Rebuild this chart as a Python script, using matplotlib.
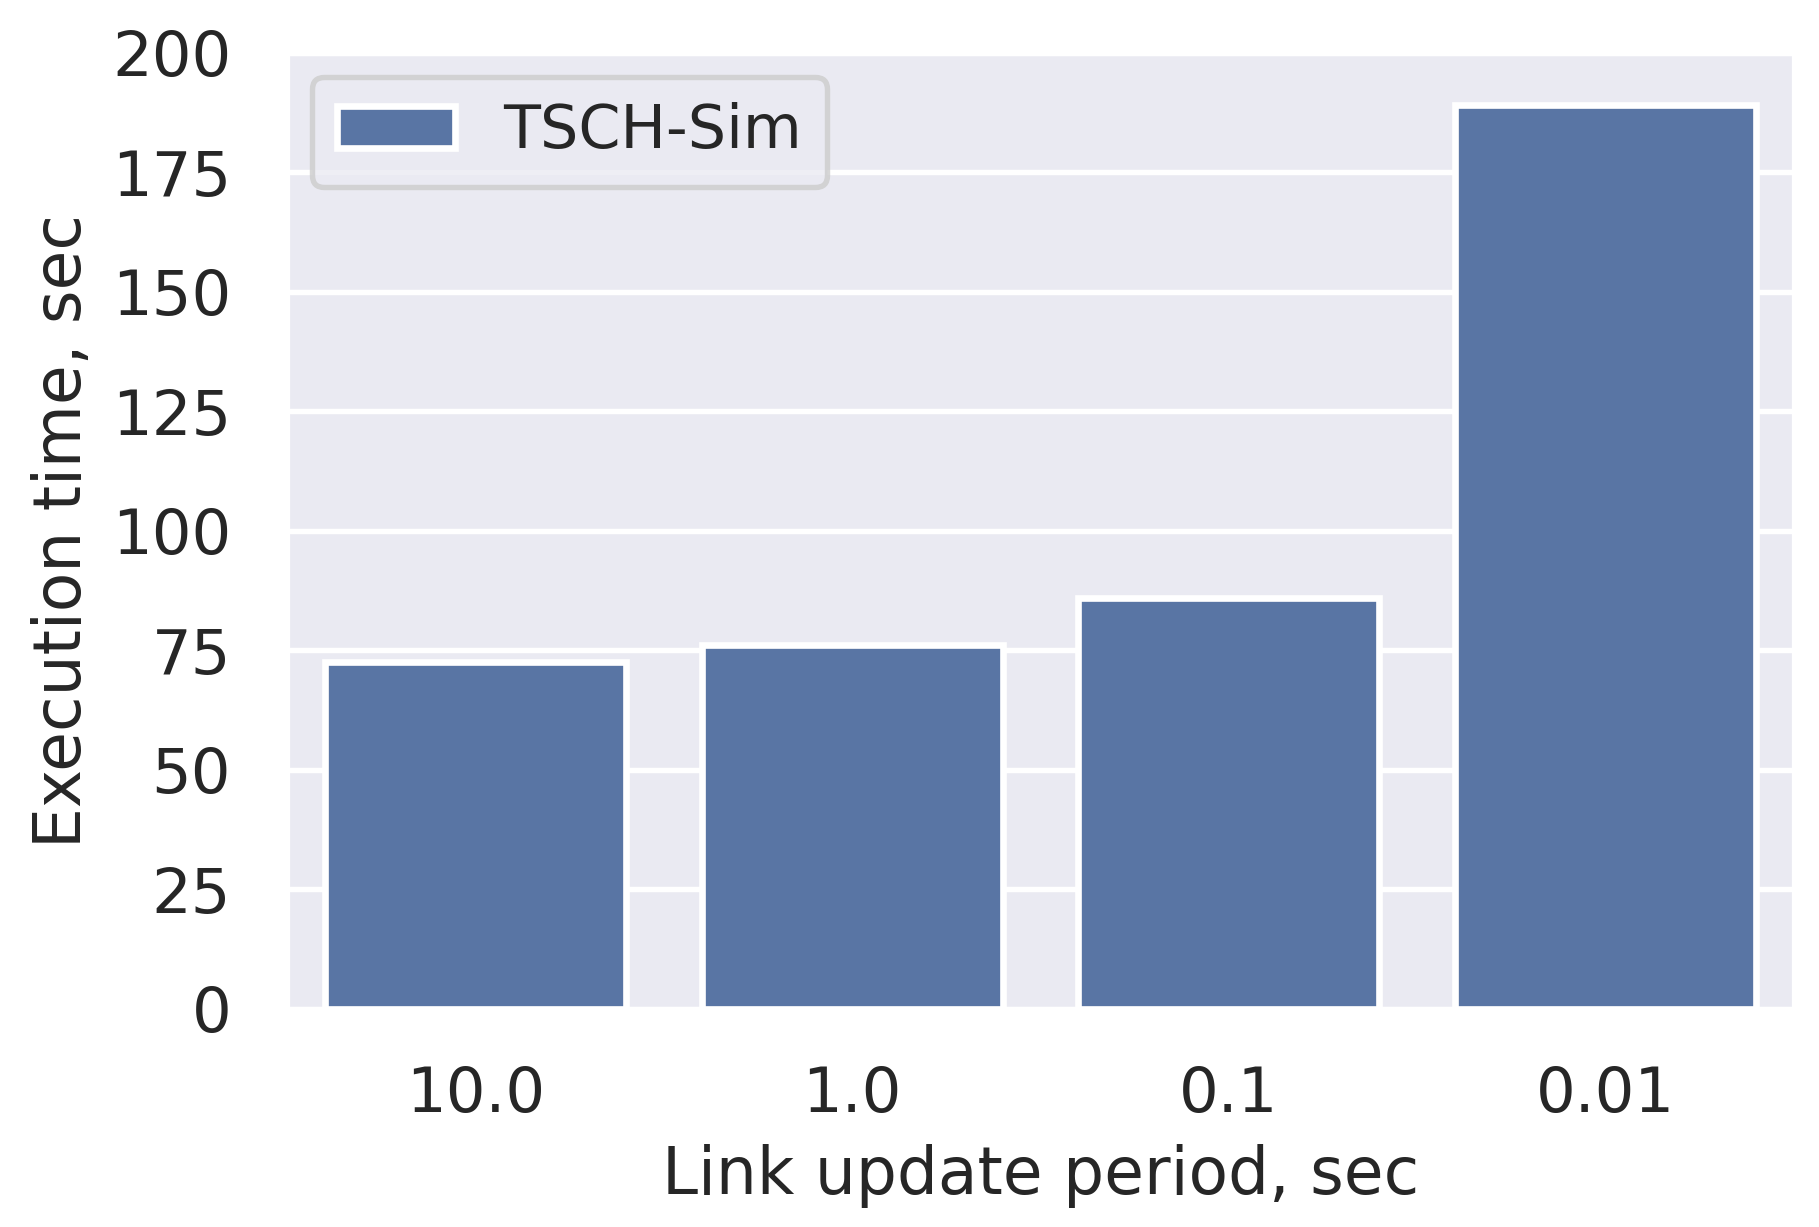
import matplotlib
matplotlib.use("Agg")
import matplotlib.pyplot as plt
import seaborn as sns

periods = ["10.0", "1.0", "0.1", "0.01"]
exec_time = [72.5, 76.0, 86.0, 189.0]

sns.set_theme(style="darkgrid")
plt.rcParams['font.family'] = ['DejaVu Sans']

fig = plt.figure(figsize=(1819 / 300, 1227 / 300), dpi=300)
fig.subplots_adjust(left=0.158, right=0.986, top=0.957, bottom=0.178)
ax = fig.add_subplot(111)

# barplot via seaborn so colour gets desaturated like the original
sns.barplot(x=periods, y=exec_time, ax=ax, color="#4c72b0", saturation=0.75,
            edgecolor="white", linewidth=1.6, label="TSCH-Sim")

ax.set_ylim(0, 200)
ax.set_yticks(range(0, 201, 25))
ax.tick_params(axis='both', labelsize=15, colors='#262626', pad=7.5)
ax.set_xlabel("Link update period, sec", fontsize=15.5, color='#262626', labelpad=4.5)
ax.set_ylabel("Execution time, sec", fontsize=15.5, color='#262626', labelpad=4)
ax.grid(False, axis='x')
ax.grid(True, axis='y', color='white', linewidth=1.3)

leg = ax.legend(loc='upper left', fontsize=14.5, frameon=True,
                borderpad=0.42, handlelength=1.95, handletextpad=0.8,
                borderaxespad=0.4)
leg.get_frame().set_edgecolor('0.8')
leg.get_frame().set_linewidth(1.3)

fig.savefig("out.png", dpi=300)
